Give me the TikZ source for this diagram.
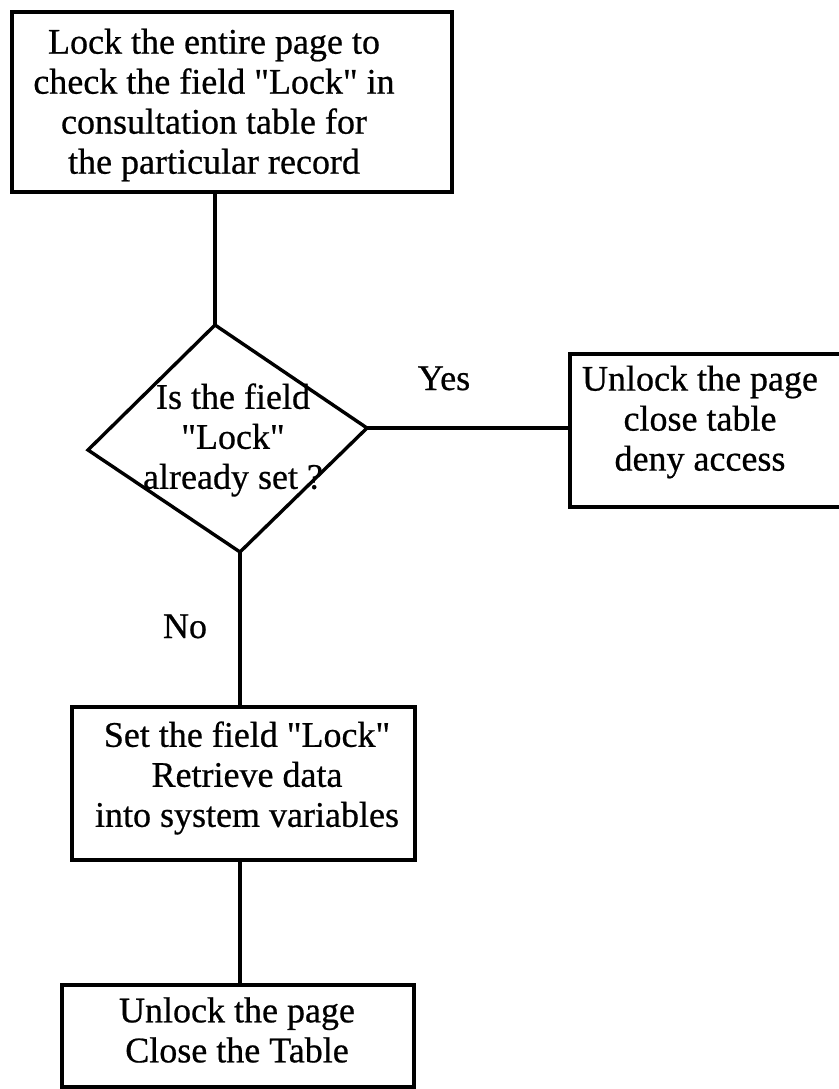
\documentclass[tikz,border=0pt]{standalone}
\usepackage{fontspec}
\setmainfont{Liberation Serif}[Ligatures=TeXOff,FakeBold=0.6]
\usetikzlibrary{positioning}

\begin{document}
\begin{tikzpicture}[x=1pt,y=-1pt,
          every node/.style={font=\fontsize{36}{40}\selectfont,inner sep=0pt},
          stepbox/.style={draw,line width=3.4pt,minimum width=#1},
          txt/.style={align=center},
          link/.style={line width=3.4pt},
        ]
        \useasboundingbox (0,0) rectangle (838,1089);
        % boxes
        \node[stepbox=440pt,minimum height=180pt] (lockpage) at (232,102)    {};
        \node[stepbox=272pt,minimum height=153pt] (deny)     at (706,430.5)  {};
        \node[stepbox=343pt,minimum height=153pt] (setlock)  at (243.5,783.5) {};
        \node[stepbox=352pt,minimum height=102pt] (unlock)   at (238,1036)   {};
        \node[txt] (lockpagetxt) at (214,105) {Lock the entire page to\\check the field "Lock" in\\consultation table for\\the particular record};
        \node[txt] (denytxt)     at (700,422) {Unlock the page\\close table\\deny access};
        \node[txt] (setlocktxt)  at (247,778) {Set the field "Lock"\\Retrieve data\\into system variables};
        \node[txt] (unlocktxt)   at (237,1030) {Unlock the page\\Close the Table};
        % decision
        \coordinate (dtop)   at (215,325);
        \coordinate (dright) at (367,428);
        \coordinate (dbot)   at (240,552);
        \coordinate (dleft)  at (88,450);
        \draw[link,line join=miter] (dtop) -- (dright) -- (dbot) -- (dleft) -- cycle;
        \node[txt] (isset) at (233,440) {Is the field\\"Lock"\\already set ?};
        % connectors
        \draw[link] (dtop |- lockpage.south) -- (dtop);
        \draw[link] (dright) -- (dright -| deny.west);
        \draw[link] (dbot) -- (dbot |- setlock.north);
        \draw[link] (dbot |- setlock.south) -- (dbot |- unlock.north);
        \node[anchor=base] (yes) at (444,390) {Yes};
        \node[anchor=base] (no)  at (185,638) {No};
      \end{tikzpicture}
\end{document}
